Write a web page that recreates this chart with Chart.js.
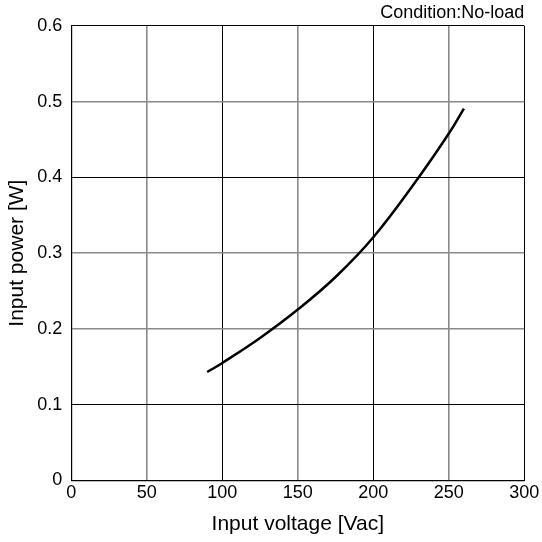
<!DOCTYPE html>
<html>
<head>
<meta charset="utf-8">
<script src="https://cdn.jsdelivr.net/npm/chart.js@4.4.1/dist/chart.umd.min.js"></script>
<style>
  html, body { margin: 0; padding: 0; background: #fff; }
  #wrap { width: 542px; height: 542px; position: relative; }
</style>
</head>
<body>
<div id="wrap"><canvas id="c"></canvas></div>
<script>
// ---- data ----
const voltage = [90, 100, 125, 150, 175, 200, 230, 250, 260];
const power   = [0.143, 0.155, 0.188, 0.2255, 0.2685, 0.321, 0.400, 0.458, 0.491];
const xTickValues = [0, 50, 100, 150, 200, 250, 300];
const yTickLabels = ['0', '0.1', '0.2', '0.3', '0.4', '0.5', '0.6'];
const titleText = 'Condition:No-load';
const xTitle = 'Input voltage [Vac]';
const yTitle = 'Input power [W]';

const points = voltage.map((v, i) => ({ x: v, y: power[i] }));
const FONT = "'Liberation Sans', Arial, sans-serif";
Chart.defaults.color = '#000';
Chart.defaults.font.family = FONT;

const grayX = [50, 150, 250];
const grayY = [0.2, 0.3, 0.5];
const near = (a, b) => Math.abs(a - b) < 1e-6;

new Chart(document.getElementById('c'), {
  type: 'scatter',
  data: {
    datasets: [{
      data: points,
      showLine: true,
      borderColor: '#000',
      backgroundColor: '#000',
      borderWidth: 2.5,
      pointRadius: 0,
      tension: 0.4,
      fill: false
    }]
  },
  options: {
    responsive: true,
    maintainAspectRatio: false,
    animation: false,
    layout: { padding: { left: 0, right: 17.7, top: 0, bottom: 0 } },
    plugins: {
      legend: { display: false },
      tooltip: { enabled: false },
      title: {
        display: true,
        text: titleText,
        align: 'end',
        color: '#000',
        font: { family: FONT, size: 18, weight: 'normal' },
        padding: { top: 2, bottom: 2.4 }
      }
    },
    scales: {
      x: {
        type: 'linear',
        min: 0, max: 300,
        afterFit: s => { s.height = 61.7; },
        afterBuildTicks: s => { s.ticks = xTickValues.map(v => ({ value: v })); },
        ticks: {
          padding: 2,
          maxRotation: 0,
          font: { family: FONT, size: 18 },
          color: '#000',
          callback: v => String(v)
        },
        grid: {
          drawTicks: false,
          color: ctx => (ctx.tick && grayX.some(g => near(g, ctx.tick.value))) ? '#8a8a8a' : '#000',
          lineWidth: ctx => (ctx.tick && grayX.some(g => near(g, ctx.tick.value))) ? 1.6 : 1
        },
        border: { color: '#000', width: 1.2 },
        title: {
          display: true,
          text: xTitle,
          color: '#000',
          font: { family: FONT, size: 21 },
          padding: { top: 0, bottom: 4.9 }
        }
      },
      y: {
        type: 'linear',
        min: 0, max: 0.6,
        afterFit: s => { s.width = 71.3; },
        afterBuildTicks: s => { s.ticks = yTickLabels.map((t, i) => ({ value: i * 0.1 })); },
        ticks: {
          padding: 9,
          font: { family: FONT, size: 18 },
          color: '#000',
          callback: (v, i) => yTickLabels[i]
        },
        grid: {
          drawTicks: false,
          color: ctx => (ctx.tick && grayY.some(g => near(g, ctx.tick.value))) ? '#8a8a8a' : '#000',
          lineWidth: ctx => (ctx.tick && grayY.some(g => near(g, ctx.tick.value))) ? 1.6 : 1
        },
        border: { color: '#000', width: 1.2 },
        title: {
          display: true,
          text: yTitle,
          color: '#000',
          font: { family: FONT, size: 21 },
          padding: { top: 4.4, bottom: 0 }
        }
      }
    }
  }
});
</script>
</body>
</html>
